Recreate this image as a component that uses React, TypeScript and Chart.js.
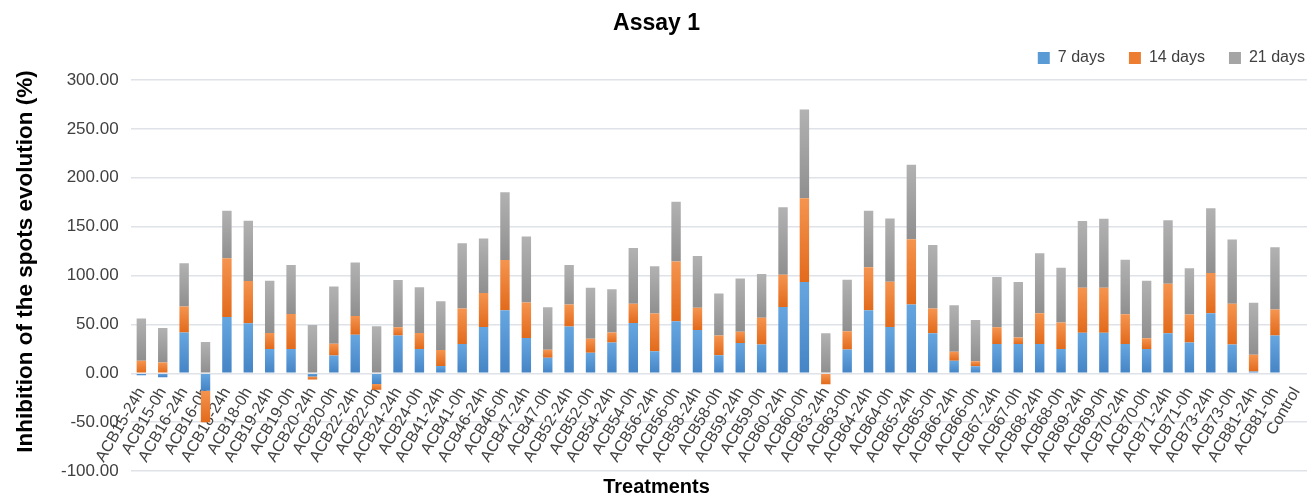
import React, { useEffect, useRef } from 'react';
import { Chart, registerables } from 'chart.js';

Chart.register(...registerables);

const categories = [
  'ACB15-24h', 'ACB15-0h', 'ACB16-24h', 'ACB16-0h', 'ACB18-24h', 'ACB18-0h',
  'ACB19-24h', 'ACB19-0h', 'ACB20-24h', 'ACB20-0h', 'ACB22-24h', 'ACB22-0h',
  'ACB24-24h', 'ACB24-0h', 'ACB41-24h', 'ACB41-0h', 'ACB46-24h', 'ACB46-0h',
  'ACB47-24h', 'ACB47-0h', 'ACB52-24h', 'ACB52-0h', 'ACB54-24h', 'ACB54-0h',
  'ACB56-24h', 'ACB56-0h', 'ACB58-24h', 'ACB58-0h', 'ACB59-24h', 'ACB59-0h',
  'ACB60-24h', 'ACB60-0h', 'ACB63-24h', 'ACB63-0h', 'ACB64-24h', 'ACB64-0h',
  'ACB65-24h', 'ACB65-0h', 'ACB66-24h', 'ACB66-0h', 'ACB67-24h', 'ACB67-0h',
  'ACB68-24h', 'ACB68-0h', 'ACB69-24h', 'ACB69-0h', 'ACB70-24h', 'ACB70-0h',
  'ACB71-24h', 'ACB71-0h', 'ACB73-24h', 'ACB73-0h', 'ACB81-24h', 'ACB81-0h',
  'Control',
];

const sevenDays = [
  -2, -4, 41.8, -18, 57.6, 51.1,
  24.7, 24.7, -3.4, 18.2, 39.4, -11,
  38.7, 24.7, 7.5, 29.8, 47.3, 64.5,
  36, 15.8, 47.7, 20.9, 31.5, 51.4,
  22.6, 53.1, 44.2, 18.5, 30.9, 29.5,
  67.9, 93.3, -0.8, 24.3, 64.5, 47.3,
  70.3, 40.8, 12.7, 7.2, 29.8, 29.8,
  29.8, 24.7, 41.5, 41.5, 29.8, 24.7,
  40.8, 31.5, 61.4, 29.5, 1.7, 38.7,
  0,
];

const fourteenDays = [
  12.7, 11, 26.4, -32, 60, 43.2,
  16.4, 36, -3.1, 12, 19.2, -6,
  8.3, 16.4, 16.2, 36.4, 34.7, 51.4,
  36.3, 8.2, 22.6, 14.4, 10.3, 19.6,
  38.4, 61.1, 22.7, 20.2, 11.6, 27.4,
  32.9, 85.7, -10.5, 18.6, 43.9, 46.3,
  66.9, 25.4, 9.2, 5.1, 17.2, 6.9,
  31.6, 27.1, 45.9, 45.9, 30.5, 11,
  50.8, 28.5, 41.1, 41.5, 17.2, 26.4,
  0,
];

const twentyOneDays = [
  43.3, 35.3, 44.3, 31.9, 48.7, 61.7,
  53.5, 50.1, 49.4, 58.6, 54.6, 48,
  48.3, 47, 50, 66.8, 55.8, 69.3,
  67.6, 43.5, 40.5, 52.1, 44.2, 57.2,
  48.4, 61.3, 53.1, 42.9, 54.5, 44.6,
  68.9, 90.9, 40.8, 52.8, 57.9, 64.8,
  76.1, 65.1, 47.7, 42.2, 51.4, 56.6,
  61.4, 56.2, 68.3, 70.7, 55.9, 58.9,
  64.8, 47.3, 66.2, 65.8, 53.1, 63.8,
  0,
];

const seriesNames = ['7 days', '14 days', '21 days'];
const yMin = -100;
const yMax = 300;
const yStep = 50;

const FONT = '"Liberation Sans", Arial, Helvetica, sans-serif';
const TEXT = '#404040';
const GRID = '#dfe2e7';

const allSeries = [sevenDays, fourteenDays, twentyOneDays];
const palette = [
  { solid: '#5b9bd5', top: '#66a6e0', bottom: '#4584c5' },
  { solid: '#ed7d31', top: '#f5944f', bottom: '#e26a1b' },
  { solid: '#a5a5a5', top: '#b2b2b2', bottom: '#8f8f8f' },
];

function segmentRange(d: number, i: number): [number, number] {
  let pos = 0;
  let neg = 0;
  for (let k = 0; k < d; k++) {
    const v = allSeries[k][i];
    if (v >= 0) pos += v;
    else neg += v;
  }
  const v = allSeries[d][i];
  const start = v >= 0 ? pos : neg;
  return [start, start + v];
}

function makeFill(d: number) {
  return (ctx: any) => {
    const chart = ctx.chart;
    const y = chart.scales && chart.scales.y;
    if (!chart.chartArea || !y || ctx.type !== 'data') return palette[d].solid;
    const [a, b] = segmentRange(d, ctx.dataIndex);
    const top = y.getPixelForValue(Math.max(a, b));
    const bot = y.getPixelForValue(Math.min(a, b));
    if (!isFinite(top) || !isFinite(bot) || Math.abs(bot - top) < 1) return palette[d].solid;
    const g = chart.ctx.createLinearGradient(0, top, 0, bot);
    g.addColorStop(0, palette[d].top);
    g.addColorStop(1, palette[d].bottom);
    return g;
  };
}

const LEGEND_DX = 16;
const LEGEND_DY = -4;
const YTITLE_DY = -14;

const layoutTweaks = {
  id: 'layoutTweaks',
  afterLayout(chart: any) {
    const l = chart.legend;
    if (l) {
      l.left += LEGEND_DX;
      l.right += LEGEND_DX;
      l.top += LEGEND_DY;
      l.bottom += LEGEND_DY;
    }
    const y = chart.scales && chart.scales.y;
    if (y) {
      y.top += YTITLE_DY;
      y.bottom += YTITLE_DY;
    }
  },
};

export default function App() {
  const ref = useRef<HTMLCanvasElement | null>(null);

  useEffect(() => {
    if (!ref.current) return;
    const chart = new Chart(ref.current, {
      type: 'bar',
      data: {
        labels: categories,
        datasets: allSeries.map((s, d) => ({
          label: seriesNames[d],
          data: s,
          backgroundColor: makeFill(d),
          borderWidth: 0,
          categoryPercentage: 1,
          barPercentage: 0.44,
        })),
      },
      options: {
        responsive: false,
        animation: false,
        layout: { padding: { left: 0, right: 3, top: 0, bottom: 0 } },
        plugins: {
          title: {
            display: true,
            text: 'Assay 1',
            color: '#000',
            font: { family: FONT, size: 23, weight: 'bold' },
            padding: { top: 10, bottom: -7.6 },
          },
          subtitle: {
            display: true,
            position: 'bottom',
            text: 'Treatments',
            color: '#000',
            font: { family: FONT, size: 20, weight: 'bold', lineHeight: 1 },
            padding: { top: 6, bottom: 0 },
          },
          legend: {
            display: true,
            position: 'top',
            align: 'end',
            labels: {
              boxWidth: 12,
              boxHeight: 12,
              padding: 24,
              color: TEXT,
              font: { family: FONT, size: 16 },
              generateLabels: (c: any) => {
                const items = Chart.defaults.plugins.legend.labels.generateLabels(c);
                items.forEach((it: any, idx: number) => {
                  it.fillStyle = palette[idx].solid;
                  it.strokeStyle = palette[idx].solid;
                  it.lineWidth = 0;
                });
                return items;
              },
            },
          },
          tooltip: { enabled: false },
        },
        scales: {
          x: {
            stacked: true,
            position: { y: 0 } as any,
            z: 1,
            grid: { display: false },
            border: { display: false },
            ticks: {
              autoSkip: false,
              minRotation: 60,
              maxRotation: 60,
              padding: 3,
              color: TEXT,
              font: { family: FONT, size: 16 },
            },
          },
          y: {
            stacked: true,
            min: yMin,
            max: yMax,
            grid: { color: GRID, lineWidth: 1.5, drawTicks: false },
            border: { display: false },
            ticks: {
              stepSize: yStep,
              padding: 12,
              color: TEXT,
              font: { family: FONT, size: 17 },
              callback: (v: any) => Number(v).toFixed(2),
            },
            title: {
              display: true,
              text: 'Inhibition of the spots evolution (%)',
              color: '#000',
              font: { family: FONT, size: 22.5, weight: 'bold' },
              padding: { top: 12, bottom: 10 },
            },
          },
        },
      },
      plugins: [layoutTweaks],
    });
    return () => chart.destroy();
  }, []);

  return (
    <div style={{ position: 'fixed', left: 0, top: 0, width: 1316, height: 497, background: '#fff' }}>
      <canvas ref={ref} width={1316} height={497} style={{ display: 'block' }} />
    </div>
  );
}
